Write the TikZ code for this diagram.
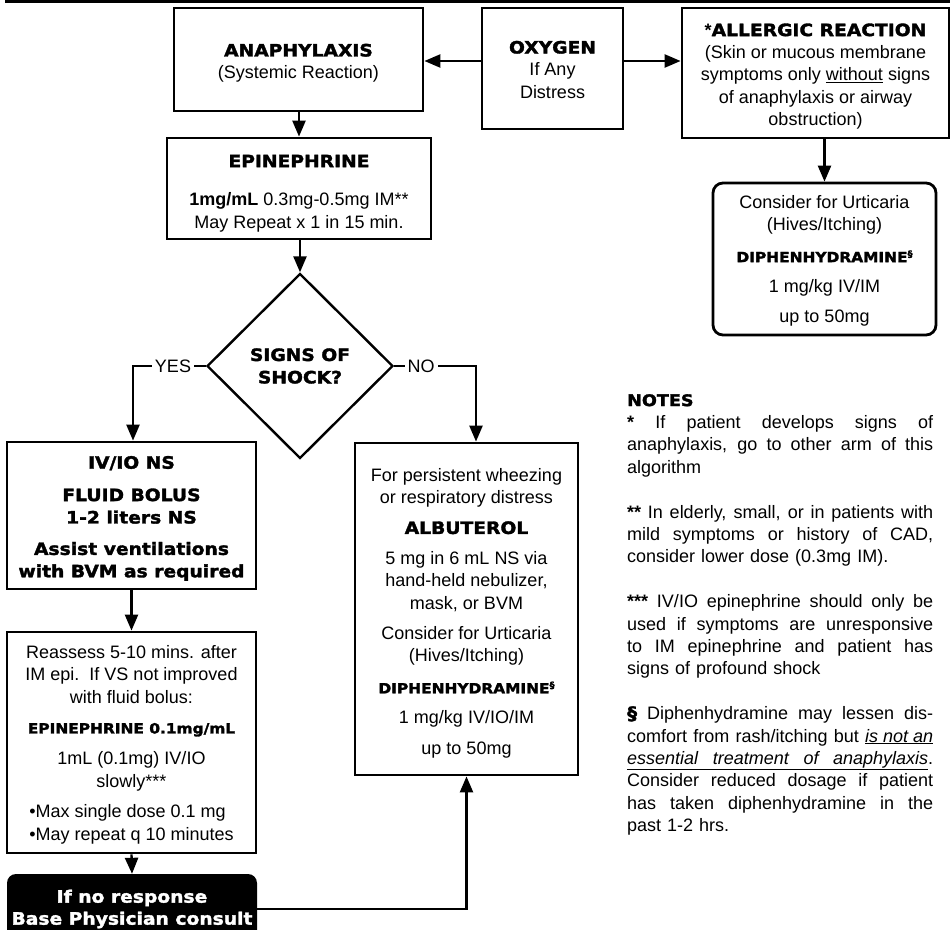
\documentclass[tikz,border=0pt]{standalone}
\usepackage{fontspec}
\setmainfont{Liberation Sans}
\newfontfamily\heavyfont[FakeStretch=1.1,FakeBold=2]{DejaVu Sans}
\usetikzlibrary{arrows.meta,shapes.geometric}
\newcommand\fs[2]{\fontsize{#1}{#2}\selectfont}
\newcommand\hv{\heavyfont\bfseries}
\newcommand\hd{\hv\fs{17}{22.4}}
\newcommand\hs{\hv\fs{14}{22.4}}
\newcommand\secmark{\raisebox{5pt}{\hv\fs{9}{9}§}}
\newcommand\tstrut[1]{\rule{0pt}{#1pt}}
% a full-width line whose word spaces stretch evenly
\newcommand\jline[1]{\leavevmode\hbox to 306pt{\spaceskip=\fontdimen2\font plus 1fil minus 2pt\relax
  \xspaceskip=\spaceskip #1}}
\newsavebox\dotbox

\begin{document}
\begin{tikzpicture}[x=1pt,y=-1pt,
  box/.style={draw, line width=2.8pt, align=center, inner sep=0pt,
              font=\fs{18}{22.4}},
  arr/.style={line width=2.4pt, -{Triangle[length=16pt,width=13pt]}},
  lbl/.style={fill=white, inner sep=3pt, font=\fs{18}{22.4}}]
\useasboundingbox (0,0) rectangle (950,929);
\clip (0,0) rectangle (950,929);

% header rule
\fill (5,0) rectangle (950,3);

% top row
\node[box, minimum width=249, minimum height=103] (anaph) at (298.5,59.5)
  {\tstrut{20}{\hd ANAPHYLAXIS}\\(Systemic Reaction)};
\node[box, minimum width=141, minimum height=121] (oxy) at (552.5,68.5)
  {\tstrut{15}{\hd OXYGEN}\\If Any\\Distress};
\node[box, minimum width=267, minimum height=130] (allergic) at (815.5,73)
  {\tstrut{19.5}{\bfseries *}{\hd ALLERGIC REACTION}\\(Skin or mucous membrane\\symptoms only \underline{without} signs\\of anaphylaxis or airway\\obstruction)};
\node[box, rounded corners=10pt, minimum width=223, minimum height=152] (urtic) at (824.5,259)
  {\tstrut{17}Consider for Urticaria\\(Hives/Itching)\\[9pt]{\hs DIPHENHYDRAMINE}\secmark\\[8pt]1 mg/kg IV/IM\\[8pt]up to 50mg};

% left column
\node[box, minimum width=264, minimum height=101] (epi) at (299,188.5)
  {\tstrut{22}{\hd EPINEPHRINE}\\[16pt]{\bfseries 1mg/mL} 0.3mg-0.5mg IM**\\May Repeat x 1 in 15 min.};
\node[draw, diamond, aspect=1, line width=2.4pt, inner sep=0pt,
      minimum width=186, minimum height=185, align=center,
      font=\fs{18}{22.4}] (dia) at (300,366)
  {{\hd SIGNS OF}\\{\hd SHOCK?}};
\node[box, minimum width=249, minimum height=147] (fluid) at (131.5,515.5)
  {\tstrut{18.5}{\hd IV/IO NS}\\[10pt]{\hd FLUID BOLUS}\\{\hd 1-2 liters NS}\\[9pt]{\hd Assist ventilations}\\{\hd with BVM as required}};
\node[box, minimum width=249, minimum height=221] (reassess) at (131.5,742.5)
  {\tstrut{20}Reassess 5-10 mins. after\\IM epi.\ \ If VS not improved\\with fluid bolus:\\[8pt]{\hs EPINEPHRINE 0.1mg/mL}\\[9pt]1mL (0.1mg) IV/IO\\slowly***\\[10pt]\begin{tabular}{@{}l@{}}\textbullet Max single dose 0.1 mg\\\textbullet May repeat q 10 minutes\end{tabular}};
\node[fill=black, text=white, rounded corners=9pt, inner sep=0pt, align=center,
      minimum width=250, minimum height=70, font=\fs{18}{22}] (consult) at (132,909)
  {{\hd If no response}\\{\hd Base Physician consult}};

% middle column
\node[box, minimum width=223, minimum height=332] (albut) at (466.5,609)
  {\tstrut{21}For persistent wheezing\\or respiratory distress\\[8pt]{\hd ALBUTEROL}\\[8pt]5 mg in 6 mL NS via\\hand-held nebulizer,\\mask, or BVM\\[8pt]Consider for Urticaria\\(Hives/Itching)\\[9pt]{\hs DIPHENHYDRAMINE}\secmark\\[8pt]1 mg/kg IV/IO/IM\\[8pt]up to 50mg};

% connectors
\coordinate (toprow) at (0,61);
\coordinate (yescorner) at (133,366);
\coordinate (nocorner) at (476,366);
\draw[arr] (oxy.west |- toprow) -- (anaph.east |- toprow);
\draw[arr] (oxy.east |- toprow) -- (allergic.west |- toprow);
\draw[arr] (anaph.south -| epi.north) -- (epi.north);
\draw[arr] (urtic.north |- allergic.south) -- (urtic.north);
\draw[arr] (epi.south -| dia.north) -- (dia.north);
\draw[arr] (dia.west) -- (yescorner) -- (yescorner |- fluid.north);
\draw[arr] (dia.east) -- (nocorner) -- (nocorner |- albut.north);
\node[lbl] (yes) at (173,366) {YES};
\node[lbl] (no) at (421,366) {NO};
\draw[arr] (fluid.south) -- (reassess.north);
\draw[arr] (reassess.south) -- (consult.north);
\draw[arr] (consult.east) -| (albut.south);

% notes, one justified line per box
\node[anchor=north west, inner sep=0pt, text width=306, align=left,
      font=\fs{18}{22.4}] (notes) at (627,394)
  {\sbox\dotbox{.}%
   {\hv\fs{16}{22.4}NOTES}\\
   \jline{{\bfseries *} If patient develops signs of}\\
   \jline{anaphylaxis, go to other arm of this}\\
   algorithm\\[22.4pt]
   \jline{{\bfseries **} In elderly, small, or in patients with}\\
   \jline{mild symptoms or history of CAD,}\\
   consider lower dose (0.3mg IM).\\[22.4pt]
   \jline{{\bfseries ***} IV/IO epinephrine should only be}\\
   \jline{used if symptoms are unresponsive}\\
   \jline{to IM epinephrine and patient has}\\
   signs of profound shock\\[22.4pt]
   \jline{{\hv §} Diphenhydramine may lessen dis-}\\
   \jline{comfort from rash/itching but \underline{\textit{is not an}}}\\
   \leavevmode\underline{\hbox to \dimexpr306pt-\wd\dotbox\relax{\itshape essential\hfil\ treatment\hfil\ of\hfil\ anaphylaxis}}.\\
   \jline{Consider reduced dosage if patient}\\
   \jline{has taken diphenhydramine in the}\\
   past 1-2 hrs.};
\end{tikzpicture}
\end{document}
